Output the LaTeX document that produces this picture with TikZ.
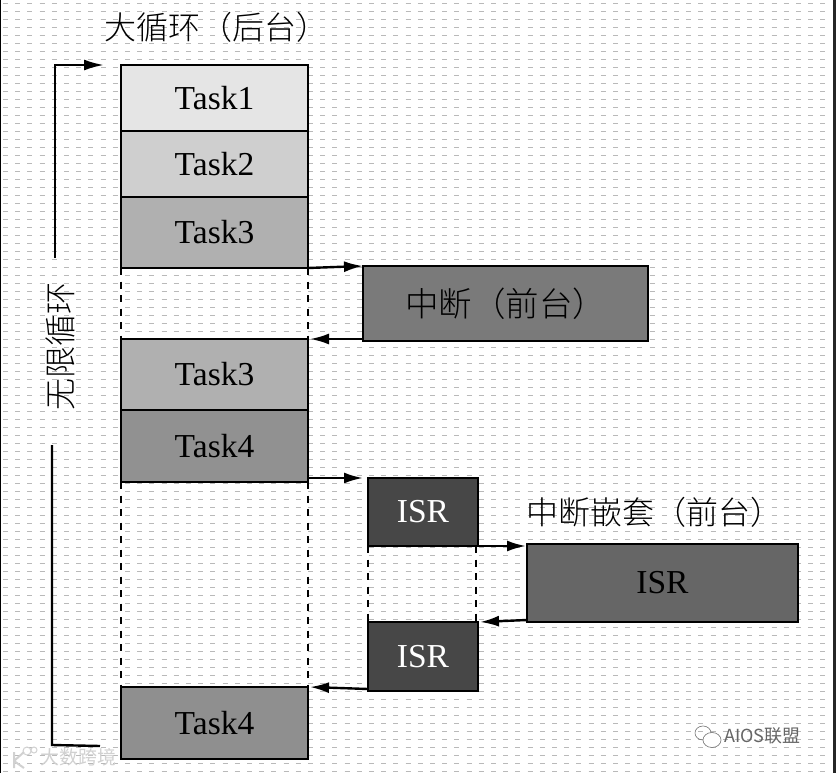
\documentclass[tikz,border=0pt]{standalone}
\usepackage{fontspec}
\usetikzlibrary{arrows.meta}
\setmainfont{Liberation Serif}
\newfontfamily\cjkf{Noto Sans CJK SC}[UprightFont=* Light]
\newfontfamily\wmf{Noto Sans CJK SC}
\tikzset{
  box/.style={draw=black,line width=2.4pt,anchor=north west,inner sep=0pt,outer sep=0pt,text=black,font=\fontsize{33.5}{36}\selectfont},
  conn/.style={line width=2.4pt,draw=black,-{Latex[length=19pt,width=11pt]}},
  dots/.style={line width=2.2pt,draw=black,dash pattern=on 7pt off 6.5pt},
  rail/.style={line width=2.4pt,draw=black},
  label/.style={font=\cjkf\fontsize{32}{34}\selectfont,text=black,inner sep=0pt},
  wm/.style={inner sep=0pt,font=\wmf\fontsize{19}{21}\selectfont}
}
\begin{document}
\begin{tikzpicture}[x=1pt,y=-1pt]
\useasboundingbox (0,0) rectangle (836,773);
\fill[white] (0,0) rectangle (836,773);
\foreach \r in {0,...,96}{
  \draw[gray!55,line width=0.9pt,dash pattern=on 5pt off 7.2pt] (3,{3+8*\r}) -- (832,{3+8*\r});
}
\fill[black] (0,0) rectangle (1.2,773);
\fill[black!85] (833,0) rectangle (836,773);
\node[box,fill=black!10,minimum width=187pt,minimum height=66pt] (t1) at (121,65) {Task1};
\node[box,fill=black!19,minimum width=187pt,minimum height=66pt] (t2) at (121,131) {Task2};
\node[box,fill=black!31,minimum width=187pt,minimum height=71pt] (t3) at (121,197) {Task3};
\node[box,fill=black!52,minimum width=285pt,minimum height=75pt] (intr) at (363,266) {\cjkf 中断（前台）};
\node[box,fill=black!31,minimum width=187pt,minimum height=71pt] (t3b) at (121,339) {Task3};
\node[box,fill=black!43,minimum width=187pt,minimum height=72pt] (t4) at (121,410) {Task4};
\node[box,fill=black!72,text=white,minimum width=110pt,minimum height=68pt] (isra) at (368,478) {ISR};
\node[box,fill=black!60,minimum width=271pt,minimum height=78pt] (isrb) at (527,544) {ISR};
\node[box,fill=black!72,text=white,minimum width=110pt,minimum height=69pt] (isrc) at (368,622) {ISR};
\node[box,fill=black!44,minimum width=187pt,minimum height=72pt] (t4b) at (121,687) {Task4};
\node[label,anchor=west] (title) at (104,27) {大循环（后台）};
\node[label,anchor=west] (title2) at (526,512) {中断嵌套（前台）};
\node[label,rotate=90] (loop) at (60,346) {无限循环};
\coordinate (railtop) at (55,65);
\coordinate (railend) at (104,65);
\coordinate (railmid) at (55,258);
\coordinate (raillow) at (52,445);
\coordinate (railbot) at (52,745);
\coordinate (railfoot) at (100,746);
\draw[rail,-{Latex[length=20pt,width=11pt]}] (railmid) -- (railtop) -- (railend);
\draw[rail] (raillow) -- (railbot) -- (railfoot);
\draw[dots] (t3.south west) -- (t3b.north west);
\draw[dots] (t3.south east) -- (t3b.north east);
\draw[dots] (t4.south west) -- (t4b.north west);
\draw[dots] (t4.south east) -- (t4b.north east);
\draw[dots] (isra.south west) -- (isrc.north west);
\draw[dots] ([xshift=-2pt]isra.south east) -- ([xshift=-2pt]isrc.north east);
\draw[conn] (t3.south east) -- (intr.north west);
\draw[conn] ([yshift=2pt]intr.south west) -- ([xshift=2pt]t3b.north east);
\draw[conn] ([yshift=4pt]t4.south east) -- ([xshift=-5pt]isra.north west);
\draw[conn] (isra.south east) -- ([yshift=-2pt,xshift=-1pt]isrb.north west);
\draw[conn] ([yshift=2pt]isrb.south west) -- ([xshift=2pt]isrc.north east);
\draw[conn] ([yshift=2pt]isrc.south west) -- ([xshift=2pt]t4b.north east);
% watermarks
\node[wm,anchor=west,text=black!18] (wma) at (40,757) {大数跨境};
\node[wm,anchor=west,text=black!60,font=\wmf\fontsize{18}{20}\selectfont] (wmb) at (724,736) {AIOS联盟};
\draw[black!55,line width=0.6pt] (703,733) ellipse [x radius=8,y radius=7];
\draw[black!55,line width=0.6pt,fill=white] (712,740) ellipse [x radius=9,y radius=7.5];
\draw[black!18,line width=2pt] (14,752) -- (14,768) (14,761) -- (24,752) (14,761) -- (24,768);
\draw[black!18,line width=1pt] (27,751) circle [radius=4] (34,750) circle [radius=3];
\end{tikzpicture}
\end{document}
